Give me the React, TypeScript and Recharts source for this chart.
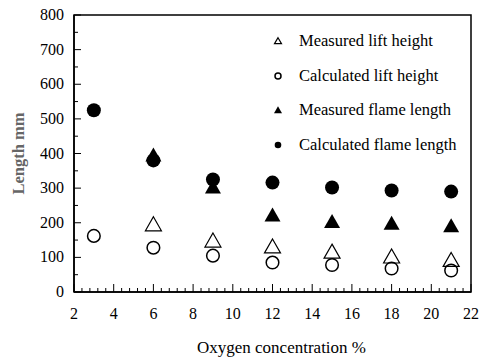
import { Legend, ReferenceArea, Scatter, ScatterChart, XAxis, YAxis } from "recharts";

// oxygen concentration (%) of each test case
const oxygen = [3, 6, 9, 12, 15, 18, 21];

// lengths in mm, null where nothing was measured
const measuredLift = [null, 195, 148, 131, 116, 102, 92];
const calculatedLift = [162, 128, 105, 85, 78, 68, 62];
const measuredFlame = [null, 395, 303, 222, 203, 198, 191];
const calculatedFlame = [525, 380, 325, 316, 302, 293, 290];

const xMajorTicks = [2, 4, 6, 8, 10, 12, 14, 16, 18, 20, 22];
const yMajorTicks = [0, 100, 200, 300, 400, 500, 600, 700, 800];

// minor ticks: 5 per x major step, 2 per y major step
const xTicks = Array.from({ length: 51 }, (_, i) => +(2 + i * 0.4).toFixed(1));
const yTicks = Array.from({ length: 17 }, (_, i) => i * 50);

const FONT = "Liberation Serif, Times New Roman, DejaVu Serif, serif";

function toPoints(values: (number | null)[]) {
    return oxygen
        .map((x, i) => ({ x, y: values[i] }))
        .filter((p) => p.y != null);
}

function FilledCircle({ cx, cy, r = 7 }: any) {
    return <circle cx={cx} cy={cy} r={r} fill="#000" />;
}

function OpenCircle({ cx, cy, r = 6.3 }: any) {
    return <circle cx={cx} cy={cy} r={r} fill="none" stroke="#000" strokeWidth={1.5} />;
}

function triPath(cx: number, cy: number, w: number, h: number) {
    return `M${cx},${cy - h * 0.55} L${cx + w / 2},${cy + h * 0.45} L${cx - w / 2},${cy + h * 0.45} Z`;
}

function FilledTriangle({ cx, cy, w = 16, h = 14 }: any) {
    return <path d={triPath(cx, cy, w, h)} fill="#000" />;
}

function OpenTriangle({ cx, cy, w = 16, h = 14 }: any) {
    return <path d={triPath(cx, cy, w, h)} fill="none" stroke="#000" strokeWidth={1.2} />;
}

const series = [
    { name: "Measured lift height", icon: <OpenTriangle cx={8} cy={8} w={7} h={6} /> },
    { name: "Calculated lift height", icon: <OpenCircle cx={8} cy={8} r={3} /> },
    { name: "Measured flame length", icon: <FilledTriangle cx={8} cy={8} w={8} h={7} /> },
    { name: "Calculated flame length", icon: <FilledCircle cx={8} cy={8} r={3.3} /> },
];

function XTick({ x, y, payload }: any) {
    const v = payload.value;
    const major = xMajorTicks.some((t) => Math.abs(t - v) < 1e-6);
    return (
        <g>
            <line x1={x} y1={y} x2={x} y2={y - (major ? 8 : 4)} stroke="#000" strokeWidth={1} />
            {major && (
                <text x={x} y={y + 27} textAnchor="middle" fontSize={16} fontFamily={FONT} fill="#000">
                    {v}
                </text>
            )}
        </g>
    );
}

function YTick({ x, y, payload }: any) {
    const v = payload.value;
    const major = yMajorTicks.includes(v);
    return (
        <g>
            <line x1={x} y1={y} x2={x + (major ? 7 : 4)} y2={y} stroke="#000" strokeWidth={1} />
            {major && (
                <text x={x - 10} y={y + 5} textAnchor="end" fontSize={16} fontFamily={FONT} fill="#000">
                    {v}
                </text>
            )}
        </g>
    );
}

function LegendBox() {
    return (
        <div style={{ fontFamily: FONT, fontSize: 16.5, color: "#000" }}>
            {series.map((s) => (
                <div key={s.name} style={{ display: "flex", alignItems: "center", height: 34.6 }}>
                    <svg width={16} height={16}>{s.icon}</svg>
                    <span style={{ marginLeft: 13, whiteSpace: "nowrap" }}>{s.name}</span>
                </div>
            ))}
        </div>
    );
}

export default function App() {
    return (
        <div style={{ position: "absolute", left: 0, top: 0, background: "#fff" }}>
            <ScatterChart width={480} height={358} margin={{ top: 15, right: 9, left: 0, bottom: 0 }}>
                <XAxis
                    type="number"
                    dataKey="x"
                    domain={[2, 22]}
                    ticks={xTicks}
                    interval={0}
                    tickSize={0}
                    tickMargin={0}
                    tickLine={false}
                    tick={<XTick />}
                    height={66}
                    axisLine={{ stroke: "#000", strokeWidth: 1.5 }}
                    label={{ value: "Oxygen concentration %", position: "insideBottom", offset: 5, dx: 9, fontSize: 17, fontFamily: FONT, fill: "#000" }}
                />
                <YAxis
                    type="number"
                    dataKey="y"
                    domain={[0, 800]}
                    ticks={yTicks}
                    interval={0}
                    tickSize={0}
                    tickMargin={0}
                    tickLine={false}
                    tick={<YTick />}
                    width={74}
                    axisLine={{ stroke: "#000", strokeWidth: 1.5 }}
                    label={{ value: "Length mm", angle: -90, position: "insideLeft", offset: 18, fontSize: 16.5, fontWeight: "bold", fontFamily: FONT, fill: "#666", style: { textAnchor: "middle" } }}
                />
                <ReferenceArea x1={2} x2={22} y1={0} y2={800} fill="none" stroke="#000" strokeWidth={1.5} />
                <Legend
                    verticalAlign="middle"
                    align="center"
                    layout="horizontal"
                    content={<LegendBox />}
                    wrapperStyle={{ left: 270, top: 24, width: 205, height: 140 }}
                />
                <Scatter name="Measured lift height" data={toPoints(measuredLift)} shape={<OpenTriangle />} isAnimationActive={false} />
                <Scatter name="Calculated lift height" data={toPoints(calculatedLift)} shape={<OpenCircle />} isAnimationActive={false} />
                <Scatter name="Measured flame length" data={toPoints(measuredFlame)} shape={<FilledTriangle />} isAnimationActive={false} />
                <Scatter name="Calculated flame length" data={toPoints(calculatedFlame)} shape={<FilledCircle />} isAnimationActive={false} />
            </ScatterChart>
        </div>
    );
}
